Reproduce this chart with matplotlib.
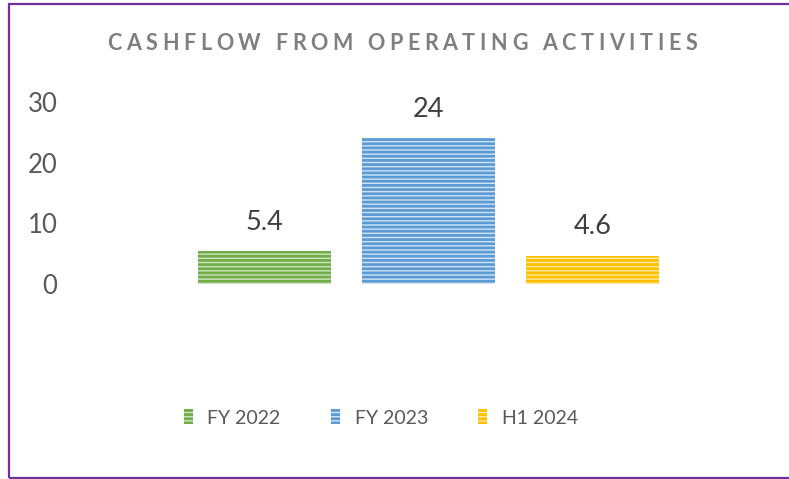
import matplotlib
matplotlib.use("Agg")
import matplotlib.pyplot as plt
from matplotlib.patches import Rectangle
from matplotlib.font_manager import FontProperties

categories = ["FY 2022", "FY 2023", "H1 2024"]
values = [5.4, 24, 4.6]
value_labels = ["5.4", "24", "4.6"]
yticks = [0, 10, 20, 30]
title = "CASHFLOW FROM OPERATING ACTIVITIES"

dark_colors = ["#70AD47", "#5B9BD5", "#FFC000"]
light_colors = ["#CFE3C2", "#D3E3F3", "#FFE8A0"]

plt.rcParams['font.family'] = ['Lato', 'DejaVu Sans']
plt.rcParams['hatch.linewidth'] = 2.0

W, H = 789, 479
fig = plt.figure(figsize=(W / 100, H / 100), dpi=100)
fig.patch.set_facecolor("white")

ax = fig.add_axes([182.5 / W, 1 - 284 / H, 492 / W, 182 / H])
ax.set_facecolor("none")
x = list(range(len(categories)))
bars = []
for i, (xi, v) in enumerate(zip(x, values)):
    b = ax.bar(xi, v, width=0.81, color=light_colors[i], edgecolor=dark_colors[i],
               linewidth=0, hatch="----", label=categories[i])
    bars.append(b)
    ax.annotate(value_labels[i], (xi, v), xytext=(0, 12), textcoords="offset points",
                ha="center", va="bottom", fontsize=19.5, color="#404040")

ax.set_xlim(-0.5, 2.5)
ax.set_ylim(0, 30)
ax.set_yticks(yticks)
ax.set_yticklabels([str(t) for t in yticks])
ax.set_xticks([])
ax.tick_params(axis="y", length=0, pad=90, labelsize=18.5, labelcolor="#595959")
for s in ax.spines.values():
    s.set_visible(False)

# Title with letter spacing (tracked so it spans x=107..697 px)
renderer = fig.canvas.get_renderer()
tprop = FontProperties(family=['Lato', 'DejaVu Sans'], weight='bold', size=15.5)
widths = []
for ch in title:
    w, h, d = renderer.get_text_width_height_descent(ch, tprop, ismath=False)
    widths.append(w)
x0, x1 = 107.0, 697.0
track = (x1 - x0 - sum(widths)) / (len(title) - 1)
cx = x0
for ch, w in zip(title, widths):
    if ch != " ":
        fig.text(cx / W, 1 - 44 / H, ch, ha="left", va="center",
                 fontproperties=tprop, color="#7F7F7F")
    cx += w + track

leg = fig.legend(handles=[b[0] for b in bars], labels=categories, ncol=3,
                 loc="center", bbox_to_anchor=(381 / W, 1 - 418 / H),
                 frameon=False, fontsize=14, labelcolor="#595959",
                 handlelength=0.45, handleheight=0.8, handletextpad=0.75,
                 columnspacing=2.6)

# Border
fig.add_artist(Rectangle((8.5 / W, 1.5 / H), (W + 10) / W, (H - 5.5) / H,
                         transform=fig.transFigure, fill=False,
                         edgecolor="#7030A0", linewidth=1.6, clip_on=False))

fig.savefig("out.png", dpi=100, facecolor="white")
